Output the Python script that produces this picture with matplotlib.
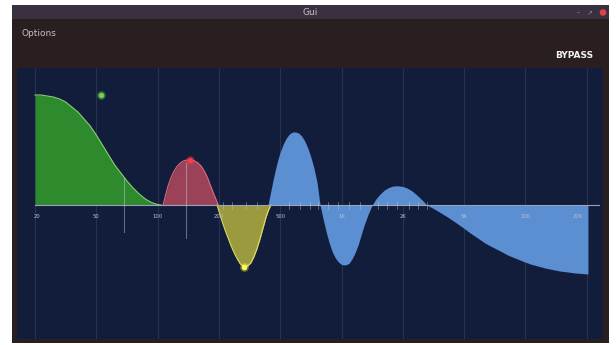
import matplotlib
matplotlib.use("Agg")
import matplotlib.pyplot as plt
from matplotlib.patches import Rectangle, Circle

# frequency labels (evenly spaced on the x axis, index 0..9)
freq_labels = ['20', '50', '100', '200', '500', '1K', '2K', '5K', '10K', '20K']
freq_pos = [0, 1, 2, 3, 4, 5, 6, 7, 8, 9]
label_pos = [0.04, 1, 2, 3, 4, 5, 6, 7, 8, 8.85]

# band curves (x = position index, y = gain)
green_x = [0.00, 0.10, 0.20, 0.30, 0.40, 0.50, 0.60, 0.70, 0.80, 0.90, 1.00,
           1.10, 1.20, 1.30, 1.40, 1.50, 1.60, 1.70, 1.80, 1.90, 2.00, 2.06]
green_y = [11.0, 11.0, 10.9, 10.8, 10.6, 10.3, 9.8, 9.3, 8.6, 7.9, 7.0,
           6.0, 5.0, 4.0, 3.2, 2.4, 1.7, 1.1, 0.6, 0.25, 0.05, 0.0]

red_x = [2.09, 2.13, 2.17, 2.21, 2.26, 2.31, 2.36, 2.42, 2.48, 2.53,
         2.59, 2.65, 2.71, 2.76, 2.81, 2.86, 2.91, 2.95, 2.99]
red_y = [0.0, 1.0, 1.9, 2.6, 3.3, 3.8, 4.15, 4.4, 4.5, 4.5,
         4.45, 4.25, 3.9, 3.4, 2.8, 2.0, 1.2, 0.6, 0.0]

yellow_x = [2.97, 3.01, 3.05, 3.10, 3.15, 3.20, 3.25, 3.30, 3.35, 3.41,
            3.47, 3.52, 3.57, 3.62, 3.67, 3.72, 3.77, 3.81, 3.85]
yellow_y = [0.0, -0.8, -1.6, -2.5, -3.3, -4.1, -4.8, -5.4, -5.9, -6.2,
            -6.1, -5.8, -5.2, -4.4, -3.4, -2.3, -1.2, -0.5, 0.0]

blue_x = [3.80, 3.84, 3.88, 3.92, 3.96, 4.00, 4.05, 4.10, 4.15, 4.20, 4.25,
          4.30, 4.35, 4.40, 4.45, 4.50, 4.55, 4.60, 4.65,
          4.70, 4.75, 4.80, 4.85, 4.90, 4.95, 5.00, 5.06, 5.12, 5.17, 5.22,
          5.27, 5.32, 5.37, 5.43, 5.50,
          5.56, 5.63, 5.70, 5.77, 5.84, 5.92, 6.00, 6.07, 6.14, 6.21, 6.28,
          6.34, 6.39,
          6.50, 6.61, 6.73, 6.85, 6.98, 7.10, 7.22, 7.34, 7.46, 7.59, 7.71,
          7.83, 7.95, 8.08, 8.20, 8.32, 8.44, 8.56, 8.69, 8.81, 8.92, 9.02]
blue_y = [0.0, 1.2, 2.4, 3.5, 4.5, 5.3, 6.1, 6.7, 7.1, 7.3, 7.3,
          7.2, 6.9, 6.4, 5.7, 4.8, 3.7, 2.3, 0.0,
          -1.4, -2.7, -3.8, -4.7, -5.3, -5.7, -5.95, -6.0, -5.85, -5.4, -4.8,
          -4.0, -3.0, -2.0, -1.0, 0.0,
          0.6, 1.1, 1.5, 1.75, 1.9, 1.92, 1.85, 1.7, 1.45, 1.1, 0.7,
          0.35, 0.0,
          -0.35, -0.75, -1.2, -1.7, -2.25, -2.8, -3.3, -3.8, -4.2, -4.6, -5.0,
          -5.3, -5.6, -5.9, -6.1, -6.3, -6.45, -6.6, -6.7, -6.8, -6.85, -6.9]

# band handles
handle_x = [1.08, 2.53, 3.41]
handle_y = [11.0, 4.5, -6.2]
handle_colors = ['#6fd04f', '#ff3a48', '#ffff50']

# faint q-markers
qline_x = [1.45, 2.46]
qline_lo = [-2.7, -3.3]
qline_hi = [2.7, 4.2]

# small ticks on the zero line
small_ticks = [3.07, 3.22, 3.45, 3.62, 4.15, 4.32, 4.48, 4.62, 4.78, 4.95,
               5.12, 5.3, 5.6, 5.75, 5.9, 6.1, 6.25, 6.4]

W, H = 616, 345
fig = plt.figure(figsize=(W / 100, H / 100), dpi=100)
fig.patch.set_facecolor('white')

# window chrome, drawn in pixel coordinates
bg = fig.add_axes([0, 0, 1, 1])
bg.set_xlim(0, W)
bg.set_ylim(H, 0)
bg.axis('off')
bg.add_patch(Rectangle((12, 5), 597, 338, facecolor='#2a1f1f', edgecolor='none'))
bg.add_patch(Rectangle((12, 5), 597, 14, facecolor='#3a3140', edgecolor='none'))
bg.text(310, 12.5, 'Gui', color='#c9c0c9', fontsize=6.5, ha='center', va='center')
bg.text(578, 12.5, '-', color='#8a8090', fontsize=6, ha='center', va='center')
bg.text(590, 12.5, '\u2197', color='#8a8090', fontsize=5, ha='center', va='center')
bg.add_patch(Circle((603, 12.5), 3.3, facecolor='#e0404a', edgecolor='none'))
bg.text(22, 33, 'Options', color='#c8bebe', fontsize=6.5, ha='left', va='center')
bg.text(593, 56, 'BYPASS', color='#f2f2f2', fontsize=6.5, fontweight='bold',
        ha='right', va='center')

# eq plot area
x0, x1 = 17, 603
y0, y1 = 68, 339
ax = fig.add_axes([x0 / W, 1 - y1 / H, (x1 - x0) / W, (y1 - y0) / H])
ax.set_facecolor('#121c3b')
ax.set_xlim(-0.294, 9.266)
ax.set_ylim(-13.4, 13.7)
for s in ax.spines.values():
    s.set_visible(False)
ax.set_xticks([])
ax.set_yticks([])

for p in freq_pos:
    ax.axvline(p, color='#27324f', lw=0.8, zorder=1)

ax.fill_between(blue_x, blue_y, 0, color='#5b8fd2', lw=0, zorder=3)
ax.fill_between(green_x, green_y, 0, color='#2d8a2d', lw=0, zorder=3)
ax.plot(green_x, green_y, color='#86d070', lw=0.8, zorder=4)
ax.fill_between(red_x, red_y, 0, color='#9b4259', lw=0, zorder=3)
ax.plot(red_x, red_y, color='#d86a80', lw=0.8, zorder=4)
ax.fill_between(yellow_x, yellow_y, 0, color='#9c9a3e', lw=0, zorder=3)
ax.plot(yellow_x, yellow_y, color='#e2e066', lw=0.8, zorder=4)

# zero line and small ticks
ax.plot([0, 9.2], [0, 0], color='#9aa3b8', lw=0.8, zorder=5)
for t in small_ticks:
    ax.plot([t, t], [-0.35, 0.35], color='#c0c8d8', lw=0.5, alpha=0.6, zorder=5)

for qx, lo, hi in zip(qline_x, qline_lo, qline_hi):
    ax.plot([qx, qx], [lo, hi], color='#c8d0e0', lw=0.8, alpha=0.45, zorder=5)

for lx, lab in zip(label_pos, freq_labels):
    ax.text(lx, -1.1, lab, color='#b8bfd0', fontsize=3.8, ha='center', va='center', zorder=6)

for hx, hy, hc in zip(handle_x, handle_y, handle_colors):
    ax.scatter([hx], [hy], s=40, color=hc, alpha=0.35, lw=0, zorder=7)
    ax.scatter([hx], [hy], s=16, color=hc, lw=0, zorder=8)

fig.savefig('out.png', dpi=100, facecolor='white')
